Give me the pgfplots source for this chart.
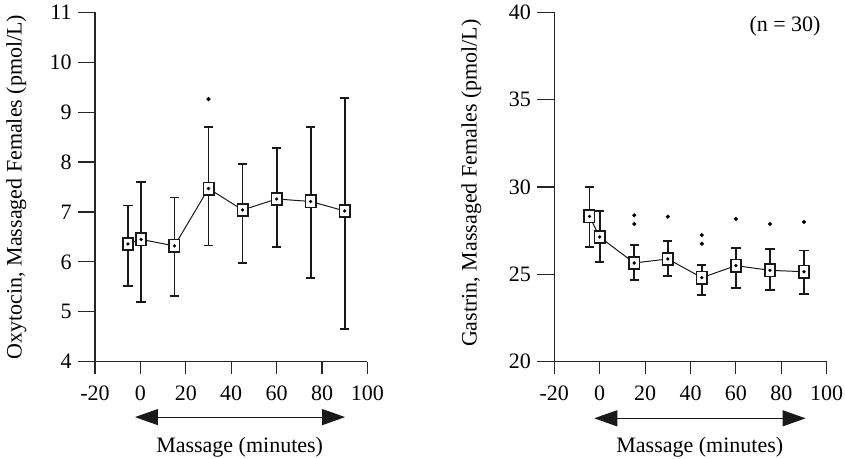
\documentclass[border=0pt]{standalone}
\usepackage{fontspec}
\setmainfont{Liberation Serif}
\usepackage{pgfplots}
\pgfplotsset{compat=1.18}
\usepackage{pgfplotstable}
\usetikzlibrary{arrows.meta}

\pgfdeclareplotmark{boxdot}{%
  \pgfpathrectangle{\pgfqpoint{-2.6pt}{-3.1pt}}{\pgfqpoint{5.2pt}{6.2pt}}%
  \pgfusepathqfillstroke
  \pgfscope
  \pgfsetfillcolor{black}%
  \pgfpathcircle{\pgfpointorigin}{0.9pt}%
  \pgfusepathqfill
  \endpgfscope
}

% Oxytocin: median (y), upper and lower whisker
\pgfplotstableread{
x    y     hi    lo
-5.5 6.36  7.13  5.52
0.3  6.45  7.60  5.19
15   6.32  7.29  5.31
30   7.47  8.70  6.33
45   7.04  7.96  5.98
60   7.26  8.28  6.30
75   7.21  8.70  5.68
90   7.02  9.28  4.66
}\oxy
\pgfplotstableread{
x  y
30 9.26
}\oxyout

% Gastrin
\pgfplotstableread{
x    y      hi     lo
-4.5 28.32  29.98  26.58
0    27.14  28.64  25.72
15.2 25.65  26.68  24.68
30   25.88  26.93  24.91
45   24.81  25.52  23.84
60   25.50  26.53  24.22
75   25.23  26.43  24.10
90   25.15  26.36  23.87
}\gas
\pgfplotstableread{
x    y
15.2 28.38
15.2 27.88
30   28.30
45   27.25
45   26.75
60   28.17
75   27.88
90   28.00
}\gasout

\tikzset{massarrow/.style={line width=0.5pt, black!90,
    {Triangle[length=11.5pt,width=8pt]}-{Triangle[length=11.5pt,width=8pt]}}}

\pgfplotsset{
  myaxis/.style={
    scale only axis, width=136.2pt, height=174.7pt,
    axis lines=left, axis line style={-, line width=0.55pt, black!85},
    xmin=-20, xmax=100, xtick={-20,0,...,100},
    tick align=outside, major tick length=7pt,
    tick style={line width=0.55pt, black!85},
    xtick style={/pgfplots/major tick length=6pt},
    ytick style={/pgfplots/major tick length=8.5pt},
    font=\fontsize{11}{13}\selectfont,
    /pgf/number format/assume math mode=true,
    yticklabel style={xshift=-1.2pt},
    xticklabel style={yshift=-1.5pt},
    xlabel={Massage (minutes)},
    xlabel style={at={(axis description cs:0.531,-0.2613)}, anchor=base},
    clip=false,
  },
  mainplot/.style={
    black!90, line width=0.5pt, mark=boxdot,
    mark options={fill=white, line width=0.8pt, solid},
    error bars/.cd, y dir=both, y explicit, error mark=-,
    error bar style={line width=0.9pt, black!90},
    error mark options={rotate=90, line width=0.9pt, mark size=2.3pt, black!90},
  },
  outplot/.style={only marks, mark=*, mark size=0.8pt, black},
}

\begin{document}
\begin{tikzpicture}
\useasboundingbox (0,0) rectangle (422.5pt,229.5pt);

\begin{axis}[myaxis,
  at={(47.5pt,48.65pt)}, anchor=south west,
  ymin=4, ymax=11, ytick={4,...,11},
  ylabel={Oxytocin, Massaged Females (pmol/L)},
  ylabel style={at={(axis description cs:-0.269,0.5)}, anchor=base, rotate=0},
]
\addplot[mainplot] table[x=x, y=y,
  y error plus expr=\thisrow{hi}-\thisrow{y},
  y error minus expr=\thisrow{y}-\thisrow{lo}] {\oxy};
\addplot[outplot] table[x=x, y=y] {\oxyout};
\draw[massarrow] ([yshift=-27.7pt]axis cs:-2.4,4) -- ([yshift=-27.7pt]axis cs:90.2,4);
\end{axis}

\begin{axis}[myaxis,
  at={(277.15pt,48.65pt)}, anchor=south west,
  ymin=20, ymax=40, ytick={20,25,...,40},
  ylabel={Gastrin, Massaged Females (pmol/L)},
  ylabel style={at={(axis description cs:-0.285,0.511)}, anchor=base, rotate=0},
  xlabel style={at={(axis description cs:0.534,-0.2613)}},
]
\addplot[mainplot] table[x=x, y=y,
  y error plus expr=\thisrow{hi}-\thisrow{y},
  y error minus expr=\thisrow{y}-\thisrow{lo}] {\gas};
\addplot[outplot] table[x=x, y=y] {\gasout};
\draw[massarrow] ([yshift=-28.3pt]axis cs:-2.4,20) -- ([yshift=-28.3pt]axis cs:90.7,20);
\node[anchor=base] at ([yshift=-9.7pt]axis description cs:0.847,1) {(n = 30)};
\end{axis}
\end{tikzpicture}
\end{document}
